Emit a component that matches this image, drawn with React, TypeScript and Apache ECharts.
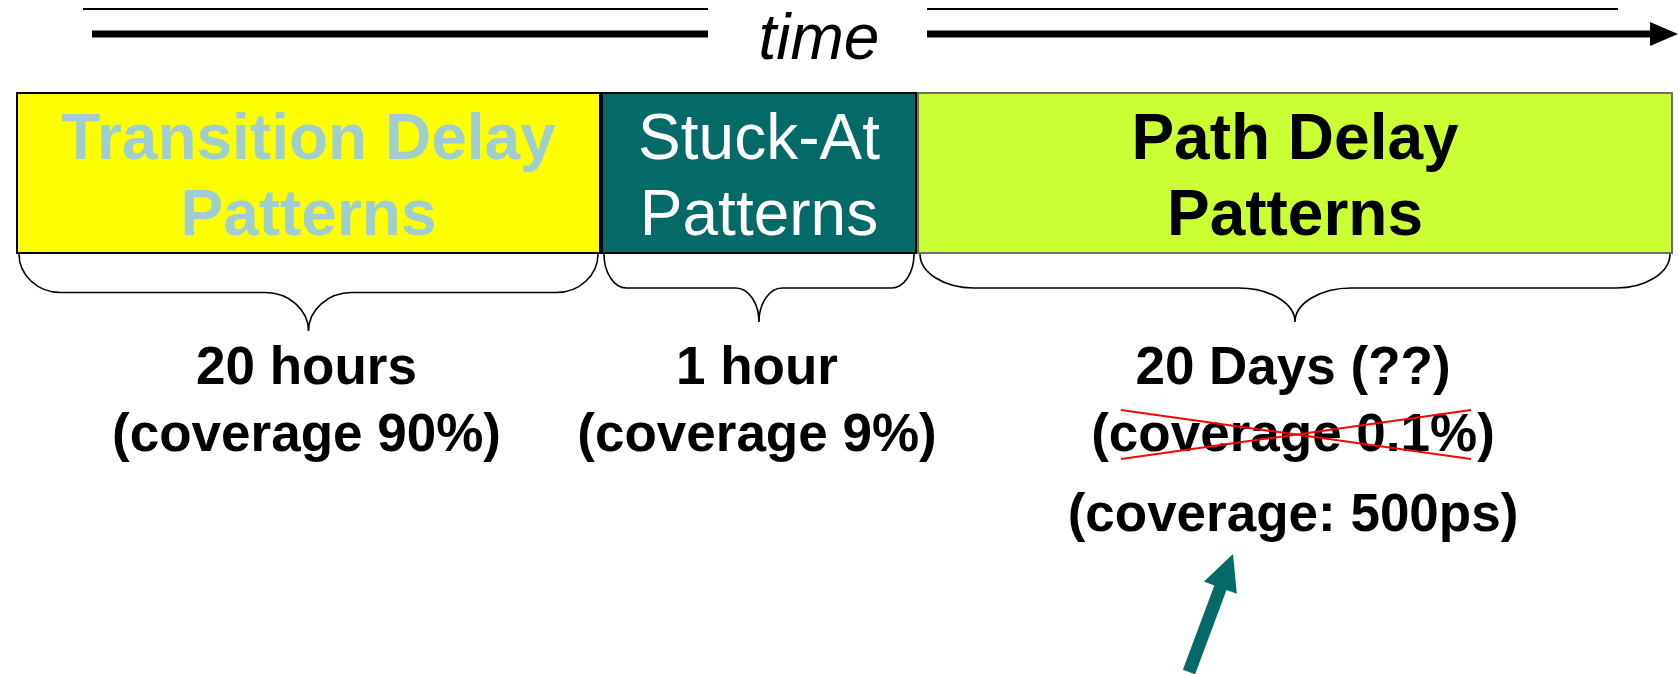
import React, { useEffect, useRef } from "react";
import * as echarts from "echarts";

// ---- data ----
const segmentNames = ["Transition Delay\nPatterns", "Stuck-At\nPatterns", "Path Delay\nPatterns"];
const segmentSpans = [585, 316, 756];
const segmentColors = ["#FFFF00", "#046A68", "#CCFF33"];
const segmentTextColors = ["#A0CDD0", "#FFFFFF", "#000000"];
const segmentFontWeights = ["bold", "normal", "bold"];
const segmentBorders = ["#000000", "#000000", "#6E6E6E"];
const durations = ["20 hours", "1 hour", "20 Days (??)"];
const coverages = ["(coverage 90%)", "(coverage 9%)", "(coverage 0.1%)"];
const struckOut = [0, 0, 1];
const revisedCoverages = ["", "", "(coverage: 500ps)"];
const timeLabel = "time";

const FONT = "'Liberation Sans', Arial, Helvetica, sans-serif";

export default function App() {
  const ref = useRef<HTMLDivElement>(null);

  useEffect(() => {
    if (!ref.current) return;
    const chart = echarts.init(ref.current, undefined, { renderer: "svg" });
    const total = segmentSpans.reduce((a, b) => a + b, 0);
    const starts: number[] = [];
    let acc = 0;
    segmentSpans.forEach((s) => {
      starts.push(acc);
      acc += s;
    });

    const barSeries = segmentSpans.map((span, i) => ({
      type: "bar",
      name: segmentNames[i],
      stack: "timeline",
      barWidth: "100%",
      data: [span],
      itemStyle: {
        color: segmentColors[i],
        borderColor: segmentBorders[i],
        borderWidth: 2,
      },
      label: {
        show: true,
        position: "inside",
        offset: [0, 2],
        formatter: segmentNames[i],
        color: segmentTextColors[i],
        fontSize: 64,
        fontWeight: segmentFontWeights[i],
        fontFamily: FONT,
        lineHeight: 76,
        align: "center",
      },
      silent: true,
    }));

    const customData = segmentSpans.map((span, i) => [starts[i], starts[i] + span, i, 0]);

    const renderItem = (params: any, api: any) => {
      const i = api.value(2);
      const x0 = api.coord([api.value(0), 0])[0] + 3;
      const x1 = api.coord([api.value(1), 0])[0] - 3;
      const cs = params.coordSys;
      const top = cs.y + cs.height;
      const cx = (x0 + x1) / 2;
      const w = x1 - x0;
      const d1 = i === 0 ? 38.5 : 34;
      const d2 = i === 0 ? 77 : 68;
      const r = w * 0.072;
      const r2 = w * 0.075;
      const m = top + d1;
      const tip = top + d2;
      const h = d2 - d1;
      const k = 0.552;
      const path =
        `M${x0},${top} C${x0},${top + k * d1} ${x0 + r - k * r},${m} ${x0 + r},${m} ` +
        `L${cx - r2},${m} C${cx - r2 + k * r2},${m} ${cx},${tip - k * h} ${cx},${tip} ` +
        `C${cx},${tip - k * h} ${cx + r2 - k * r2},${m} ${cx + r2},${m} ` +
        `L${x1 - r},${m} C${x1 - r + k * r},${m} ${x1},${top + k * d1} ${x1},${top}`;
      const textFont = `bold 53px ${FONT}`;
      const tx = cx - 2;
      const y1 = top + 111;
      const y2 = top + 178;
      const children: any[] = [
        {
          type: "path",
          shape: { pathData: path },
          style: { stroke: "#000", fill: "none", lineWidth: 1.6 },
        },
        {
          type: "text",
          x: tx,
          y: y1,
          style: { text: durations[i], font: textFont, fill: "#000", align: "center", verticalAlign: "middle" },
        },
        {
          type: "text",
          x: tx,
          y: y2,
          style: { text: coverages[i], font: textFont, fill: "#000", align: "center", verticalAlign: "middle" },
        },
      ];
      if (struckOut[i]) {
        children.push(
          { type: "line", shape: { x1: tx - 172, y1: y2 - 22, x2: tx + 178, y2: y2 + 27 }, style: { stroke: "#FF0000", lineWidth: 2 } },
          { type: "line", shape: { x1: tx - 172, y1: y2 + 27, x2: tx + 178, y2: y2 - 22 }, style: { stroke: "#FF0000", lineWidth: 2 } }
        );
      }
      if (revisedCoverages[i]) {
        const y3 = top + 258;
        children.push({
          type: "text",
          x: tx,
          y: y3,
          style: { text: revisedCoverages[i], font: textFont, fill: "#000", align: "center", verticalAlign: "middle" },
        });
        // arrow pointing up to revised text
        const tipX = tx - 60, tipY = y3 + 42;
        const tailX = tx - 104, tailY = y3 + 160;
        const dx = tipX - tailX, dy = tipY - tailY;
        const len = Math.sqrt(dx * dx + dy * dy);
        const ux = dx / len, uy = dy / len;
        const px = -uy, py = ux;
        const headLen = 36, headW = 17.5, shaftW = 6.5;
        const bx = tipX - ux * headLen, by = tipY - uy * headLen;
        children.push({
          type: "polygon",
          shape: {
            points: [
              [tailX + px * shaftW, tailY + py * shaftW],
              [bx + px * shaftW, by + py * shaftW],
              [bx + px * headW, by + py * headW],
              [tipX, tipY],
              [bx - px * headW, by - py * headW],
              [bx - px * shaftW, by - py * shaftW],
              [tailX - px * shaftW, tailY - py * shaftW],
            ],
          },
          style: { fill: "#046A68" },
        });
      }
      return { type: "group", children };
    };

    const option: any = {
      animation: false,
      backgroundColor: "#FFFFFF",
      grid: { left: 16, top: 92, width: total, height: 162, containLabel: false },
      xAxis: { type: "value", min: 0, max: total, show: false },
      yAxis: { type: "category", data: ["patterns"], show: false },
      series: [
        ...barSeries,
        {
          type: "custom",
          renderItem,
          data: customData,
          encode: { x: [0, 1], y: 3 },
          clip: false,
          silent: true,
          z: 5,
        },
      ],
      graphic: [
        { type: "line", shape: { x1: 83, y1: 9, x2: 708, y2: 9 }, style: { stroke: "#000", lineWidth: 2 } },
        { type: "line", shape: { x1: 927, y1: 9, x2: 1618, y2: 9 }, style: { stroke: "#000", lineWidth: 2 } },
        { type: "line", shape: { x1: 92, y1: 34, x2: 708, y2: 34 }, style: { stroke: "#000", lineWidth: 7 } },
        { type: "line", shape: { x1: 927, y1: 34, x2: 1656, y2: 34 }, style: { stroke: "#000", lineWidth: 7 } },
        { type: "polygon", shape: { points: [[1650, 22], [1678, 34], [1650, 46]] }, style: { fill: "#000" } },
        {
          type: "text",
          x: 819,
          y: 37,
          style: {
            text: timeLabel,
            font: `italic 64px ${FONT}`,
            fill: "#000",
            align: "center",
            verticalAlign: "middle",
          },
        },
      ],
    };
    chart.setOption(option);
    return () => chart.dispose();
  }, []);

  return (
    <div
      ref={ref}
      style={{ position: "absolute", left: 0, top: 0, width: 1678, height: 674, background: "#fff" }}
    />
  );
}
